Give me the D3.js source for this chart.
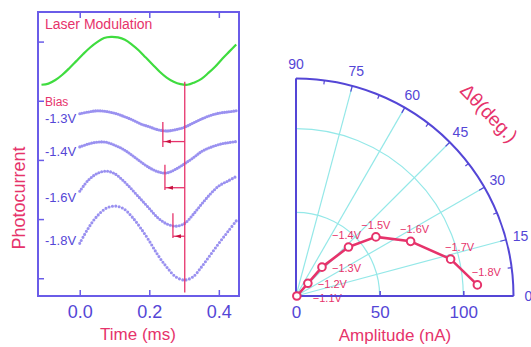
<!DOCTYPE html>
<html><head><meta charset="utf-8">
<script src="https://cdn.jsdelivr.net/npm/d3@7"></script>
<style>
body{margin:0;background:#fff}
svg{display:block}
text{font-family:"Liberation Sans",Arial,sans-serif}
</style>
</head><body>
<svg id="c" width="531" height="347"></svg>
<script>
// ---------- left panel data ----------
const timeMs = [0,0.025,0.05,0.075,0.1,0.125,0.15,0.175,0.2,0.225,0.25,0.275,0.3,0.325,0.35,0.375,0.4,0.425,0.45];
const current13 = [2.78,2.81,2.83,2.82,2.79,2.74,2.68,2.61,2.56,2.51,2.49,2.51,2.55,2.62,2.69,2.75,2.79,2.81,2.83];
const current14 = [2.22,2.27,2.30,2.30,2.25,2.18,2.08,1.97,1.87,1.80,1.78,1.84,1.93,2.03,2.14,2.21,2.26,2.29,2.31];
const current16 = [1.47,1.66,1.77,1.81,1.77,1.65,1.50,1.34,1.18,1.02,0.92,0.88,0.92,1.07,1.25,1.42,1.56,1.64,1.72];
const current18 = [0.59,0.85,1.05,1.18,1.22,1.18,1.04,0.85,0.63,0.39,0.19,0.03,-0.03,0.02,0.19,0.39,0.59,0.78,0.97];
const biasLabels = ["-1.3V","-1.4V","-1.6V","-1.8V"];
const biasLabelLevel = [2.71,2.14,1.37,0.64];
const laserTime = [-0.11,-0.09,-0.07,-0.05,-0.03,-0.01,0.01,0.03,0.05,0.07,0.09,0.11,0.13,0.15,0.17,0.19,0.21,0.23,0.25,0.27,0.29,0.31,0.33,0.35,0.37,0.39,0.41,0.43,0.45];
const laserSignal = [3.27,3.29,3.35,3.44,3.55,3.67,3.79,3.90,3.99,4.06,4.08,4.07,4.03,3.95,3.85,3.73,3.61,3.49,3.39,3.32,3.28,3.27,3.31,3.37,3.47,3.58,3.71,3.83,3.95];
const refMinTime = 0.302;
const refLineRange = [3.32,-0.24];
const shiftMinTime = [0.239,0.245,0.268];
const shiftTop = [2.64,1.92,1.10];
const shiftBottom = [2.22,1.49,0.68];
const shiftArrow = [2.31,1.53,0.71];
const timeTicks = [0,0.2,0.4];
const currentTicks = [0,1,2,3,4];

// ---------- polar panel data ----------
const polarBias = ["\u22121.1V","\u22121.2V","\u22121.3V","\u22121.4V","\u22121.5V","\u22121.6V","\u22121.7V","\u22121.8V"];
const amplitudeNA = [0.5,10.4,23.2,42.9,59.4,75.9,95.0,108.6];
const phaseDeg = [0,47,48,43,36.5,25.5,13.4,3.5];
const amplitudeTicks = [0,50,100];
const angleTicks = [0,15,30,45,60,75,90];
const gridRadii = [50,100];

// ---------- styles ----------
const BLUE = "#5446d6", FRAME = "#6a5ce8", CRIMSON = "#e6336b", DOT = "#9a91f0",
      GREEN = "#3fdc3f", CYAN = "#94e8e8";
const dotGap = [2.3,2.5,3.0,3.4];

const svg = d3.select("#c");

// ================= LEFT PANEL =================
const x = d3.scaleLinear().domain([-0.12,0.458]).range([38,239]);
const y = d3.scaleLinear().domain([-0.3,4.5]).range([296,12]);

const L = svg.append("g");
const axB = L.append("g").attr("transform","translate(0,296)")
  .call(d3.axisBottom(x).tickValues(timeTicks).tickFormat(d3.format(".1f")).tickSizeInner(-6).tickSizeOuter(0).tickPadding(9));
const axT = L.append("g").attr("transform","translate(0,12)")
  .call(d3.axisTop(x).tickValues(timeTicks).tickFormat("").tickSizeInner(-6).tickSizeOuter(0));
const axL = L.append("g").attr("transform","translate(38,0)")
  .call(d3.axisLeft(y).tickValues(currentTicks).tickFormat("").tickSizeInner(-6).tickSizeOuter(0));
[axB,axT,axL].forEach(a=>{a.select(".domain").remove(); a.selectAll("line").attr("stroke",FRAME).attr("stroke-width",1.5);});
axB.selectAll("text").attr("fill",BLUE).attr("font-size",18).attr("font-family","'Liberation Sans',Arial,sans-serif");

L.append("rect").attr("x",x.range()[0]).attr("y",y.range()[1]).attr("width",x.range()[1]-x.range()[0]).attr("height",y.range()[0]-y.range()[1])
  .attr("fill","none").attr("stroke",FRAME).attr("stroke-width",2);

const laserLine = d3.line().x((d,i)=>x(laserTime[i])).y(d=>y(d)).curve(d3.curveCatmullRom);
L.append("path").attr("d",laserLine(laserSignal)).attr("fill","none").attr("stroke",GREEN).attr("stroke-width",2.2);

const pcLine = d3.line().x((d,i)=>x(timeMs[i])).y(d=>y(d)).curve(d3.curveCatmullRom);
[current13,current14,current16,current18].forEach((s,k)=>{
  L.append("path").attr("d",pcLine(s)).attr("fill","none").attr("stroke",DOT)
   .attr("stroke-width",3.1).attr("stroke-linecap","round").attr("stroke-dasharray","0,"+dotGap[k]);
});

L.append("line").attr("x1",x(refMinTime)).attr("x2",x(refMinTime)).attr("y1",y(refLineRange[0])).attr("y2",y(refLineRange[1]))
  .attr("stroke",CRIMSON).attr("stroke-width",1.3);
shiftMinTime.forEach((t,i)=>{
  const xm = x(t), xr = x(refMinTime), ya = y(shiftArrow[i]);
  L.append("line").attr("x1",xm).attr("x2",xm).attr("y1",y(shiftTop[i])).attr("y2",y(shiftBottom[i])).attr("stroke",CRIMSON).attr("stroke-width",1.3);
  L.append("line").attr("x1",xm).attr("x2",xr).attr("y1",ya).attr("y2",ya).attr("stroke",CRIMSON).attr("stroke-width",1.3);
  L.append("path").attr("d",`M${xm+2},${ya}L${xm+8},${ya-2}L${xm+8},${ya+2}Z`).attr("fill","#c8103e");
});

L.append("text").attr("x",45).attr("y",29).attr("font-size",14).attr("fill",CRIMSON).text("Laser Modulation");
L.append("text").attr("x",45).attr("y",106).attr("font-size",12).attr("fill",CRIMSON).text("Bias");
biasLabels.forEach((b,i)=>{
  L.append("text").attr("x",45).attr("y",y(biasLabelLevel[i])).attr("dy","0.36em").attr("font-size",13).attr("fill",BLUE).text(b);
});
L.append("text").attr("transform","translate(25,198) rotate(-90)").attr("text-anchor","middle").attr("font-size",18).attr("fill",CRIMSON).text("Photocurrent");
L.append("text").attr("x",138).attr("y",340).attr("text-anchor","middle").attr("font-size",17).attr("fill",CRIMSON).text("Time (ms)");

// ================= POLAR PANEL =================
const cx = 296, cy = 296;
const r = d3.scaleLinear().domain([0,130]).range([0,217.5]);
const R = r(130);
const rad = d => d*Math.PI/180;
const P = svg.append("g").attr("transform",`translate(${cx},${cy})`);

gridRadii.forEach(g=>{
  P.append("path").attr("d",d3.arc()({innerRadius:r(g),outerRadius:r(g),startAngle:0,endAngle:Math.PI/2}))
   .attr("fill","none").attr("stroke",CYAN).attr("stroke-width",1.2);
});
angleTicks.filter(a=>a>0&&a<90).forEach(a=>{
  P.append("line").attr("x1",0).attr("y1",0).attr("x2",R*Math.cos(rad(a))).attr("y2",-R*Math.sin(rad(a)))
   .attr("stroke",CYAN).attr("stroke-width",1.2);
});

const pts = amplitudeNA.map((a,i)=>[r(a)*Math.cos(rad(phaseDeg[i])), -r(a)*Math.sin(rad(phaseDeg[i]))]);
const labelOff = [[16,6,"start"],[10,5,"start"],[10,5,"start"],[-2,-8,"middle"],[0,-8,"middle"],[4,-8,"middle"],[9,-8,"middle"],[9,-9,"middle"]];
polarBias.forEach((b,i)=>{
  P.append("text").attr("x",pts[i][0]+labelOff[i][0]).attr("y",pts[i][1]+labelOff[i][1]).attr("text-anchor",labelOff[i][2])
   .attr("font-size",11).attr("fill",CRIMSON).text(b);
});
P.append("path").attr("d",d3.line()(pts)).attr("fill","none").attr("stroke",CRIMSON).attr("stroke-width",2.6).attr("stroke-linejoin","round");

const axA = P.append("g").call(d3.axisBottom(r).tickValues(amplitudeTicks).tickSizeInner(-5).tickSizeOuter(0).tickPadding(10));
axA.select(".domain").remove();
axA.selectAll("line").attr("stroke",BLUE).attr("stroke-width",1.5);
axA.selectAll("text").attr("fill",BLUE).attr("font-size",17).attr("font-family","'Liberation Sans',Arial,sans-serif");
P.append("line").attr("x1",0).attr("y1",0).attr("x2",R).attr("y2",0).attr("stroke",BLUE).attr("stroke-width",2);
P.append("line").attr("x1",0).attr("y1",0).attr("x2",0).attr("y2",-R).attr("stroke",BLUE).attr("stroke-width",2);
P.append("path").attr("d",d3.arc()({innerRadius:R,outerRadius:R,startAngle:0,endAngle:Math.PI/2}))
  .attr("fill","none").attr("stroke",BLUE).attr("stroke-width",2);
d3.range(0,91,7.5).forEach(a=>{
  const len = (a%15===0)?6:4;
  P.append("line").attr("x1",R*Math.cos(rad(a))).attr("y1",-R*Math.sin(rad(a)))
   .attr("x2",(R-len)*Math.cos(rad(a))).attr("y2",-(R-len)*Math.sin(rad(a))).attr("stroke",BLUE).attr("stroke-width",1.2);
});
angleTicks.forEach(a=>{
  const lr = R+15;
  P.append("text").attr("x",lr*Math.cos(rad(a))).attr("y",-lr*Math.sin(rad(a))).attr("dy","0.36em")
   .attr("text-anchor","middle").attr("font-size",14).attr("fill",BLUE).text(a);
});

P.selectAll("circle.pt").data(pts).enter().append("circle").attr("class","pt")
  .attr("cx",d=>d[0]).attr("cy",d=>d[1]).attr("r",3.8).attr("fill","#fff").attr("stroke",CRIMSON).attr("stroke-width",2);

svg.append("text").attr("x",395).attr("y",341).attr("text-anchor","middle").attr("font-size",17).attr("fill",CRIMSON).text("Amplitude (nA)");
svg.append("text").attr("transform","translate(489,113) rotate(46)").attr("text-anchor","middle").attr("dy","0.35em")
  .attr("font-size",19).attr("fill",CRIMSON).text("\u0394\u03b8(deg.)");
</script>
</body></html>
